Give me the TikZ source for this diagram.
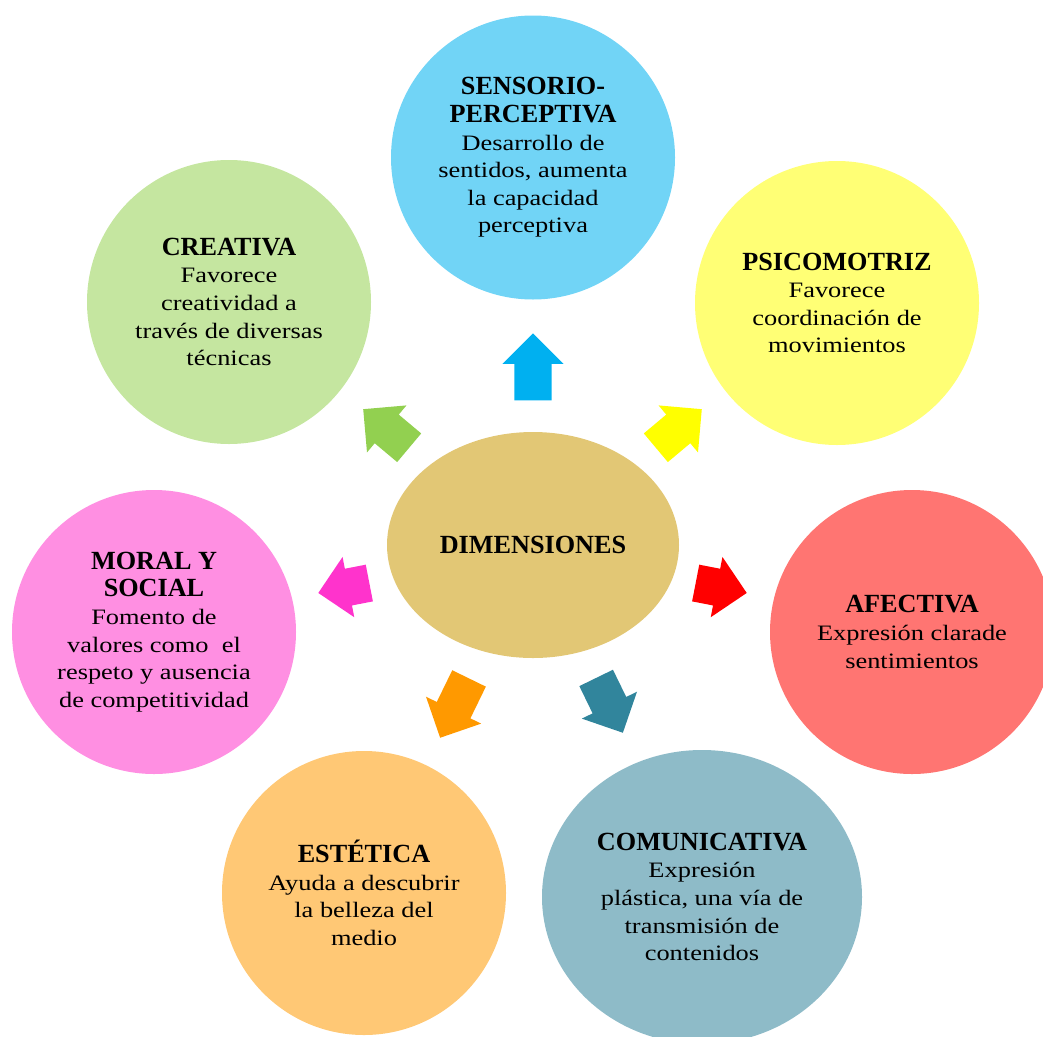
\documentclass[tikz,border=0pt]{standalone}
\usepackage{fontspec}
\setmainfont{Liberation Serif}
\newfontfamily\bodyfont[FakeStretch=1.2]{Liberation Serif}
\usetikzlibrary{shapes.geometric,shapes.arrows}

\definecolor{sensfill}{HTML}{71D4F6}
\definecolor{creafill}{HTML}{C5E6A0}
\definecolor{psicfill}{HTML}{FFFF75}
\definecolor{dimfill}{HTML}{E2C775}
\definecolor{morafill}{HTML}{FF8FE2}
\definecolor{afecfill}{HTML}{FF7572}
\definecolor{estefill}{HTML}{FFC875}
\definecolor{comufill}{HTML}{8EBBC8}
\definecolor{arrblue}{HTML}{00B0F0}
\definecolor{arrgreen}{HTML}{92D050}
\definecolor{arryellow}{HTML}{FFFF00}
\definecolor{arrmagenta}{HTML}{FF33CC}
\definecolor{arrred}{HTML}{FF0000}
\definecolor{arrorange}{HTML}{FF9900}
\definecolor{arrteal}{HTML}{31859C}

\newcommand{\dimtitle}[1]{{\rmfamily\bfseries\fontsize{26.2}{27.6}\selectfont #1}}

\tikzset{
  dimtext/.style={inner sep=0pt, align=center, font=\bodyfont\fontsize{22}{27.6}\selectfont},
  dimcircle/.style={dimtext, circle, minimum size=284pt},
  dimarrow/.style={single arrow, draw=none, inner xsep=0pt, inner ysep=18.5pt,
    minimum width=61pt, single arrow head extend=12pt, anchor=tip}
}

\begin{document}
\begin{tikzpicture}[x=1pt, y=-1pt]
  \useasboundingbox (0,0) rectangle (1043,1036);
  \clip (0,0) rectangle (1043,1036);
  % center
  \node[dimtext, ellipse, fill=dimfill, minimum width=292pt, minimum height=226pt] (dim) at (533,545) {\dimtitle{DIMENSIONES}};
  % dimensions
  \node[dimcircle, fill=sensfill] (sens) at (533,157.5) {\dimtitle{SENSORIO-}\\\dimtitle{PERCEPTIVA}\\Desarrollo de\\sentidos, aumenta\\la capacidad\\perceptiva};
  \node[dimcircle, fill=creafill] (crea) at (229,302) {\dimtitle{CREATIVA}\\Favorece\\creatividad a\\través de diversas\\técnicas};
  \node[dimcircle, fill=psicfill] (psic) at (837,303) {\dimtitle{PSICOMOTRIZ}\\Favorece\\coordinación de\\movimientos};
  \node[dimcircle, fill=morafill] (mora) at (154,632) {\dimtitle{MORAL Y}\\\dimtitle{SOCIAL}\\Fomento de\\valores como\ \ el\\respeto y ausencia\\de competitividad};
  \node[dimcircle, fill=afecfill] (afec) at (912,632) {\dimtitle{AFECTIVA}\\Expresión clarade\\sentimientos};
  \node[dimcircle, fill=estefill] (este) at (364,893) {\dimtitle{ESTÉTICA}\\Ayuda a descubrir\\la belleza del\\medio};
  \node[dimtext, ellipse, fill=comufill, minimum width=320pt, minimum height=294pt] (comu) at (702,897) {\dimtitle{COMUNICATIVA}\\Expresión\\plástica, una vía de\\transmisión de\\contenidos};
  % arrows
  \node[dimarrow, fill=arrblue, rotate=90, minimum height=67pt] (toSens) at (533,333) {};
  \node[dimarrow, fill=arrgreen, rotate=140, minimum height=60pt] (toCrea) at (363,409) {};
  \node[dimarrow, fill=arryellow, rotate=40, minimum height=60pt] (toPsic) at (702,409) {};
  \node[dimarrow, fill=arrmagenta, rotate=191, minimum height=52pt] (toMora) at (318,593) {};
  \node[dimarrow, fill=arrred, rotate=-11, minimum height=52pt] (toAfec) at (747,593) {};
  \node[dimarrow, fill=arrorange, rotate=244, minimum height=66pt] (toEste) at (440,738) {};
  \node[dimarrow, fill=arrteal, rotate=-64, minimum height=61pt] (toComu) at (623,733) {};
\end{tikzpicture}
\end{document}
